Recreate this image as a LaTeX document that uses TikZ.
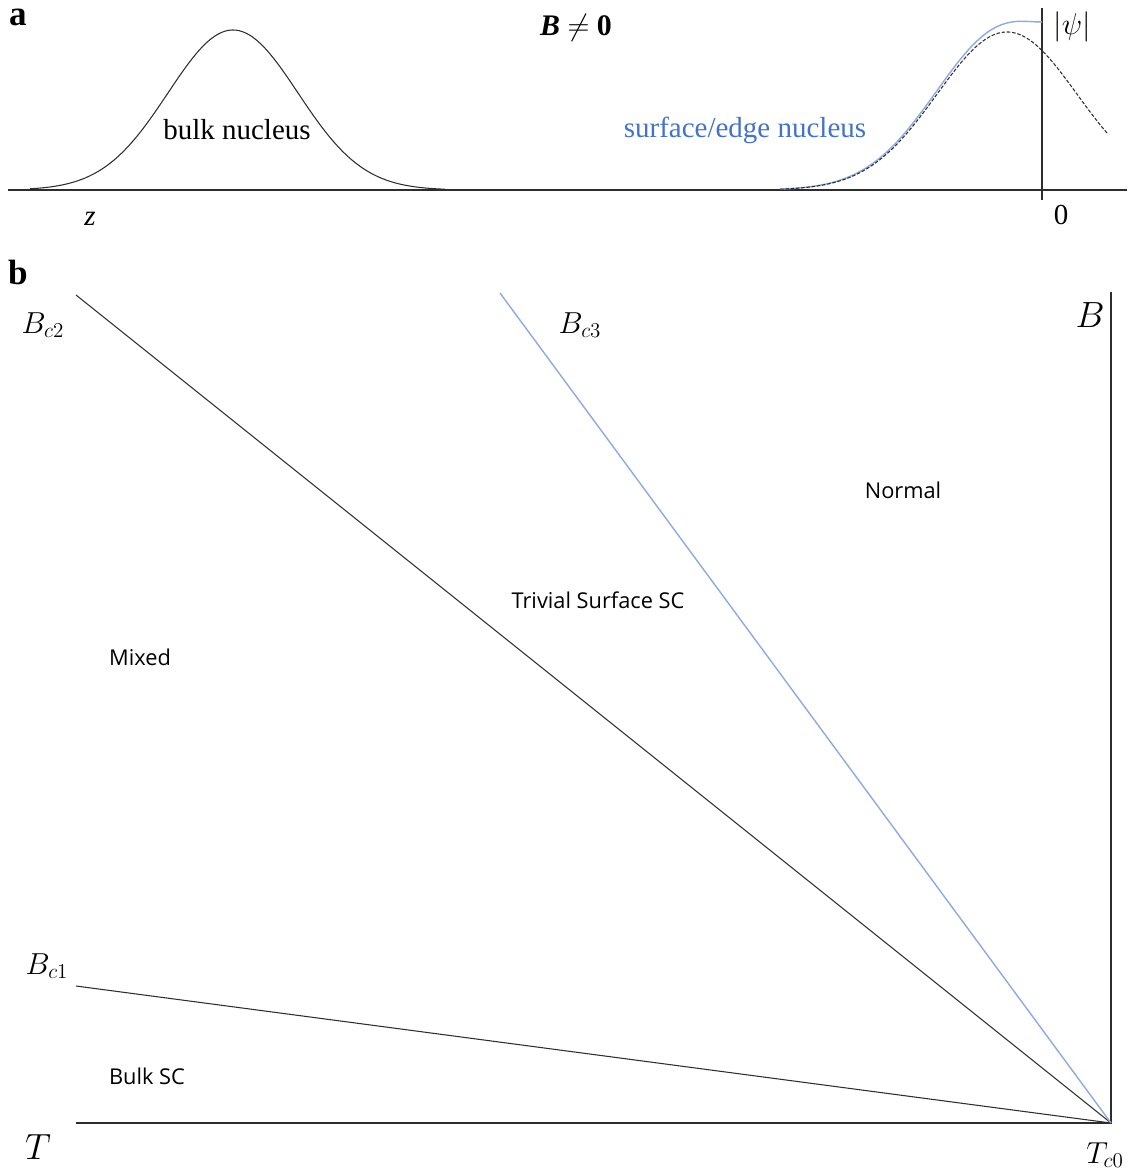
\documentclass[tikz,border=0pt]{standalone}
\usepackage{amsmath}
\usepackage{fontspec}
\setmainfont{Liberation Serif}
\newfontfamily\regionfont{Open Sans}
\usepackage{xcolor}
\definecolor{scblue}{RGB}{68,114,196}
\definecolor{scline}{RGB}{143,170,220}
\definecolor{scgray}{RGB}{45,45,45}
\usetikzlibrary{calc}

\begin{document}
\begin{tikzpicture}[x=0.02cm, y=-0.02cm,
  serif/.style={font=\fontsize{16.5}{19}\selectfont},
  mathlbl/.style={font=\fontsize{18}{21}\selectfont},
  region/.style={font=\regionfont\fontsize{12.4}{15}\selectfont},
  curve/.style={scgray, line width=0.6pt},
  axis/.style={scgray, line width=0.6pt}]
  \useasboundingbox (0,0) rectangle (1127,1173);

  % --- Panel a: nucleus profiles ---
  \node[font=\bfseries\fontsize{20}{22}\selectfont] (tagA) at (18,17) {a};
  \node[font=\fontsize{17}{20}\selectfont] (fieldA) at (576,28) {\textbf{\textit{B}} $\neq$ \textbf{0}};
  \coordinate (zL) at (8,190);
  \coordinate (zR) at (1127,190);
  \coordinate (edgeT) at (1042,8);
  \coordinate (edgeB) at (1042,200);
  \draw[axis] (zL) -- (zR);
  \draw[axis] (edgeT) -- (edgeB);
  % bulk nucleus
  \draw[curve] plot[domain=30:445, samples=120, smooth]
       (\x, {190-160*exp(-0.5*((\x-233)/65)^2)});
  % surface nucleus (dashed) and edge solution (blue)
  \draw[scline, line width=0.8pt] plot[domain=780:1042, samples=100, smooth]
       (\x, {190-158*exp(-0.5*((\x-1005)/70)^2)-28.6*exp((\x-1040)/28.7)});
  \draw[curve, dash pattern=on 2pt off 1pt] plot[domain=780:1108, samples=100, smooth]
       (\x, {190-158*exp(-0.5*((\x-1007)/70)^2)});
  \node[serif] (bulkLbl) at (237,130) {bulk nucleus};
  \node[serif, scblue] (edgeLbl) at (745,130) {surface/edge nucleus};
  \node[mathlbl] (psiLbl) at (1072,27) {$|\psi|$};
  \node[serif] (zeroLbl) at (1061,215) {0};
  \node[serif] (zLbl) at (90,219) {\textit{z}};

  % --- Panel b: phase diagram ---
  \node[font=\bfseries\fontsize{20}{22}\selectfont] (tagB) at (18,272) {b};
  \coordinate (Tc0) at (1111,1123);
  \coordinate (Tstart) at (76,1123);
  \coordinate (Btop) at (1111,292);
  \coordinate (Bc2pt) at (76,295);
  \coordinate (Bc3pt) at (500,293);
  \coordinate (Bc1pt) at (76,986);
  \draw[axis] (Tstart) -- (Tc0) -- (Btop);
  \draw[curve] (Bc2pt) -- (Tc0);
  \draw[curve] (Bc1pt) -- (Tc0);
  \draw[scline, line width=0.8pt] (Bc3pt) -- (Tc0);
  % axis and line labels
  \node[mathlbl] (BcTwo) at (43,325) {$B_{c2}$};
  \node[mathlbl] (BcThree) at (580,325) {$B_{c3}$};
  \node[mathlbl] (BcOne) at (47,966) {$B_{c1}$};
  \node[font=\fontsize{20}{23}\selectfont] (Blbl) at (1090,315) {$B$};
  \node[font=\fontsize{20}{23}\selectfont] (Tlbl) at (38,1147) {$T$};
  \node[mathlbl] (TcZero) at (1105,1155) {$T_{c0}$};
  % phase regions
  \node[region] (normalLbl) at (903,490) {Normal};
  \node[region] (surfLbl) at (598,600) {Trivial Surface SC};
  \node[region] (mixedLbl) at (140,657) {Mixed};
  \node[region] (bulkSCLbl) at (147,1076) {Bulk SC};
\end{tikzpicture}
\end{document}
